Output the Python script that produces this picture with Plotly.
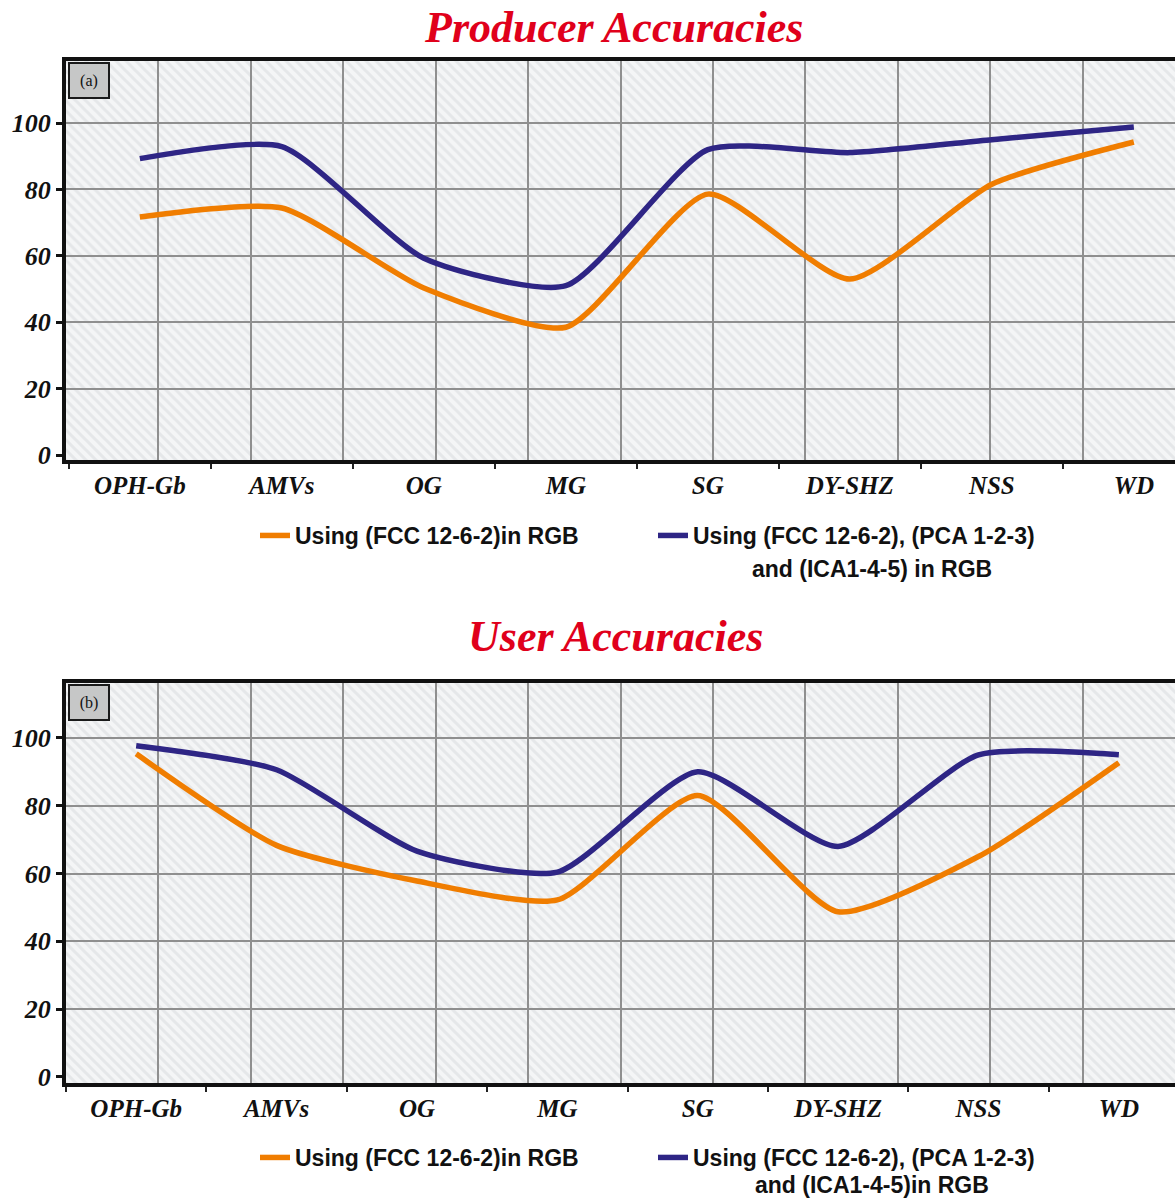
import base64
import plotly.graph_objects as go

# ---- data -------------------------------------------------------------
classes = ["OPH-Gb", "AMVs", "OG", "MG", "SG", "DY-SHZ", "NSS", "WD"]

producer_fcc = [71.7, 74.4, 50.3, 38.5, 78.6, 53.0, 81.6, 94.3]
producer_fcc_pca_ica = [89.3, 92.9, 59.3, 51.0, 92.0, 91.1, 95.0, 98.8]

user_fcc = [95.3, 68.3, 57.8, 52.2, 83.0, 48.7, 65.0, 92.7]
user_fcc_pca_ica = [97.7, 90.6, 66.6, 60.4, 90.0, 68.0, 95.0, 95.0]

y_ticks = [0, 20, 40, 60, 80, 100]
grid_y = [20, 40, 60, 80, 100]

name_fcc = "Using (FCC 12-6-2)in RGB"
name_all = "Using (FCC 12-6-2), (PCA 1-2-3)"
name_all_cont_top = "and (ICA1-4-5) in RGB"
name_all_cont_bottom = "and (ICA1-4-5)in RGB"

# ---- styling ----------------------------------------------------------
W, H = 1175, 1201
ORANGE = "#f07d00"
BLUE = "#2e2585"
RED = "#e0001b"
GRID = "#8f8f8f"
SERIF = "Liberation Serif, Times New Roman, serif"
SANS = "Liberation Sans, Arial, sans-serif"

x_dom = [66 / W, 1.0]
top_px = (61, 460)
bot_px = (683, 1083)


def py(px):
    """pixel row -> paper fraction"""
    return 1 - px / H


def ydom(px):
    return [py(px[1]), py(px[0])]


top_dom = ydom(top_px)
bot_dom = ydom(bot_px)

fig = go.Figure()

# data lines
for xa, ya, s1, s2, lg1, lg2 in [
    ("x", "y", producer_fcc, producer_fcc_pca_ica, "legend", "legend2"),
    ("x2", "y2", user_fcc, user_fcc_pca_ica, "legend3", "legend4"),
]:
    fig.add_trace(go.Scatter(
        x=classes, y=s1, xaxis=xa, yaxis=ya, mode="lines", name=name_fcc,
        line=dict(color=ORANGE, width=5.5, shape="spline", smoothing=0.6),
        legend=lg1, hoverinfo="skip"))
    fig.add_trace(go.Scatter(
        x=classes, y=s2, xaxis=xa, yaxis=ya, mode="lines", name=name_all,
        line=dict(color=BLUE, width=5.5, shape="spline", smoothing=0.6),
        legend=lg2, hoverinfo="skip"))

# empty traces that hold the grid overlays
for xa, ya in [("x3", "y3"), ("x4", "y4")]:
    fig.add_trace(go.Scatter(x=[None], y=[None], xaxis=xa, yaxis=ya,
                             showlegend=False, hoverinfo="skip"))

ytick_font = dict(family=SERIF, size=26, color="#111", weight="bold", style="italic")
xtick_font = dict(family=SERIF, size=25, color="#111", weight="bold", style="italic")


def cat_axis(dom_anchor, rng):
    return dict(
        type="category", categoryarray=classes, domain=x_dom, anchor=dom_anchor,
        range=rng, showgrid=False, zeroline=False, automargin=False,
        showline=True, linecolor="#111", linewidth=4, mirror=True,
        ticks="outside", tickson="boundaries", ticklen=5, tickwidth=2,
        tickcolor="#222", tickfont=xtick_font, fixedrange=True)


def val_axis(dom, anchor, rng):
    return dict(
        domain=dom, anchor=anchor, range=rng, tickvals=y_ticks, automargin=False,
        showgrid=False, zeroline=False, showline=True, linecolor="#111",
        linewidth=4, ticks="outside", ticklen=6, tickwidth=3, tickcolor="#111",
        tickfont=ytick_font, fixedrange=True)


def grid_x(over, anchor):
    return dict(overlaying=over, anchor=anchor, range=[0, 12], dtick=1,
                showgrid=True, gridcolor=GRID, gridwidth=2, showticklabels=False,
                ticks="", zeroline=False, showline=False, fixedrange=True,
                automargin=False)


def grid_yaxis(over, anchor, rng):
    return dict(overlaying=over, anchor=anchor, range=rng, tickvals=grid_y,
                showgrid=True, gridcolor=GRID, gridwidth=2, showticklabels=False,
                ticks="", zeroline=False, showline=False, fixedrange=True,
                automargin=False)


top_y = [-1.5, 118.7]
bot_y = [-1.8, 116.2]

fig.update_layout(
    xaxis=cat_axis("y", [-0.52, 7.29]),
    yaxis=val_axis(top_dom, "x", top_y),
    xaxis2=cat_axis("y2", [-0.50, 7.40]),
    yaxis2=val_axis(bot_dom, "x2", bot_y),
    xaxis3=grid_x("x", "y3"),
    yaxis3=grid_yaxis("y", "x3", top_y),
    xaxis4=grid_x("x2", "y4"),
    yaxis4=grid_yaxis("y2", "x4", bot_y),
)

# hatched plot background
svg = (
    '<svg xmlns="http://www.w3.org/2000/svg" width="1109" height="400" '
    'viewBox="0 0 1109 400" preserveAspectRatio="none">'
    '<defs><pattern id="h" patternUnits="userSpaceOnUse" width="10" height="10">'
    '<rect width="10" height="10" fill="#f4f5f6"/>'
    '<path d="M-2,-2 L12,12 M-2,8 L2,12 M8,-2 L12,2" stroke="#e5e7e9" stroke-width="3"/>'
    '</pattern></defs><rect width="1109" height="400" fill="url(#h)"/></svg>'
)
src = "data:image/svg+xml;base64," + base64.b64encode(svg.encode()).decode()
images = []
for dom in (top_dom, bot_dom):
    images.append(dict(source=src, xref="paper", yref="paper", x=x_dom[0], y=dom[1],
                       sizex=x_dom[1] - x_dom[0], sizey=dom[1] - dom[0],
                       xanchor="left", yanchor="top", sizing="stretch", layer="below"))

# titles, panel tags and the wrapped legend line
title_font = dict(family=SERIF, size=44, color=RED, weight="bold", style="italic")
leg_font = dict(family=SANS, size=23, color="#111", weight="bold")
annotations = [
    dict(text="Producer Accuracies", x=613 / W, y=py(27), xref="paper", yref="paper",
         showarrow=False, font=title_font, xanchor="center", yanchor="middle"),
    dict(text="User Accuracies", x=615 / W, y=py(636), xref="paper", yref="paper",
         showarrow=False, font=title_font, xanchor="center", yanchor="middle"),
    dict(text=name_all_cont_top, x=872 / W, y=py(569), xref="paper", yref="paper",
         showarrow=False, font=leg_font, xanchor="center", yanchor="middle"),
    dict(text=name_all_cont_bottom, x=872 / W, y=py(1185), xref="paper", yref="paper",
         showarrow=False, font=leg_font, xanchor="center", yanchor="middle"),
]
for tag, top in (("(a)", 62), ("(b)", 684)):
    annotations.append(dict(
        text=tag, x=68 / W, y=py(top), xref="paper", yref="paper",
        xanchor="left", yanchor="top", showarrow=False, width=36, height=31,
        bgcolor="#c6c7c7", bordercolor="#1a1a1a", borderwidth=2, borderpad=1,
        font=dict(family=SERIF, size=16, color="#111")))


def legend_at(x_text, y_line):
    return dict(x=(x_text - 40) / W, y=py(y_line - 22), xref="paper", yref="paper",
                xanchor="left", yanchor="top", orientation="v", valign="middle",
                bgcolor="rgba(0,0,0,0)", borderwidth=0, font=leg_font,
                itemclick=False, itemdoubleclick=False)


fig.update_layout(
    width=W, height=H, margin=dict(l=0, r=0, t=0, b=0, autoexpand=False),
    paper_bgcolor="white", plot_bgcolor="#f4f5f6",
    showlegend=True,
    legend=legend_at(295, 536),
    legend2=legend_at(693, 536),
    legend3=legend_at(295, 1158),
    legend4=legend_at(693, 1158),
    images=images,
    annotations=annotations,
)

fig.write_html("out.html")
